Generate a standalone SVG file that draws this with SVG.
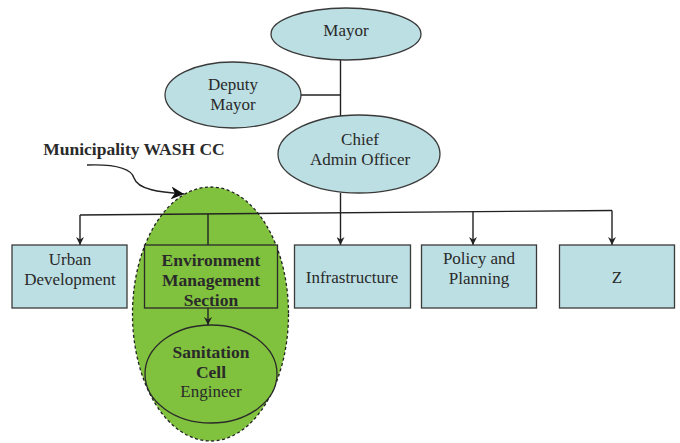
<svg xmlns="http://www.w3.org/2000/svg" width="680" height="443" viewBox="0 0 680 443">
<defs>
<style>
.blue{fill:#bcdfe3;stroke:#3a3a3a;stroke-width:1.3}
.green{fill:#80c13e;stroke:#2a2a2a;stroke-width:1.3}
.t{font-family:"Liberation Serif","Times New Roman",serif;font-size:17px;fill:#2a2a2a;text-anchor:middle}
.b{font-weight:bold;font-size:17.5px}
.ln{fill:none;stroke:#222;stroke-width:1.4}
</style>
<marker id="ah" viewBox="0 0 10 10" refX="10" refY="5" markerWidth="8" markerHeight="8" markerUnits="userSpaceOnUse" orient="auto">
<path d="M0,0 L10,5 L0,10 L3,5 Z" fill="#222"/>
</marker>
<marker id="ah2" viewBox="0 0 10 10" refX="10" refY="5" markerWidth="13" markerHeight="13" markerUnits="userSpaceOnUse" orient="auto">
<path d="M0,0 L10,5 L0,10 L3,5 Z" fill="#111"/>
</marker>
</defs>
<rect width="680" height="443" fill="#fff"/>
<g id="wash-cc">
<ellipse cx="210.5" cy="314" rx="78" ry="127" fill="#80c13e" stroke="#222" stroke-width="1.3" stroke-dasharray="3,2.5"/>
<text class="t b" x="134" y="155" font-size="17">Municipality WASH CC</text>
<path class="ln" d="M87,165 C116,164 131,168 134,178 C138,190 160,192 184,194" stroke="#111" stroke-width="2.2" marker-end="url(#ah2)"/>
</g>
<g id="connectors">
<line class="ln" x1="340.5" y1="60" x2="340.5" y2="117"/>
<line class="ln" x1="300" y1="95" x2="340.5" y2="95"/>
<line class="ln" x1="340.5" y1="193" x2="340.5" y2="245" marker-end="url(#ah)"/>
<line class="ln" x1="80" y1="215" x2="612" y2="210.5"/>
<line class="ln" x1="80" y1="215" x2="80" y2="245" marker-end="url(#ah)"/>
<line class="ln" x1="208" y1="214" x2="208" y2="245"/>
<line class="ln" x1="473" y1="211.7" x2="473" y2="245" marker-end="url(#ah)"/>
<line class="ln" x1="612" y1="210.5" x2="612" y2="245" marker-end="url(#ah)"/>
<line class="ln" x1="208" y1="308" x2="208" y2="325" marker-end="url(#ah)"/>
</g>
<g id="mayor">
<ellipse class="blue" cx="346" cy="34" rx="75" ry="26"/>
<text class="t" x="346" y="36">Mayor</text>
</g>
<g id="deputy-mayor">
<ellipse class="blue" cx="233" cy="95" rx="68" ry="33"/>
<text class="t" x="233" y="90">Deputy</text>
<text class="t" x="233" y="110">Mayor</text>
</g>
<g id="chief-admin-officer">
<ellipse class="blue" cx="359" cy="154" rx="81" ry="39"/>
<text class="t" x="360" y="145">Chief</text>
<text class="t" x="360" y="165">Admin Officer</text>
</g>
<g id="urban-development">
<rect class="blue" x="12" y="245" width="115" height="63"/>
<text class="t" x="70" y="265">Urban</text>
<text class="t" x="70" y="285">Development</text>
</g>
<g id="environment-management-section">
<rect class="green" x="144.5" y="245" width="133" height="63"/>
<text class="t b" x="211" y="266">Environment</text>
<text class="t b" x="211" y="286">Management</text>
<text class="t b" x="211" y="306">Section</text>
</g>
<g id="infrastructure">
<rect class="blue" x="294.5" y="245" width="116" height="63"/>
<text class="t" x="352" y="283">Infrastructure</text>
</g>
<g id="policy-and-planning">
<rect class="blue" x="421.5" y="245" width="115" height="63"/>
<text class="t" x="479" y="264">Policy and</text>
<text class="t" x="479" y="284">Planning</text>
</g>
<g id="z">
<rect class="blue" x="559.5" y="245" width="115" height="63"/>
<text class="t" x="617" y="283">Z</text>
</g>
<g id="sanitation-cell">
<ellipse class="green" cx="211" cy="374" rx="66" ry="49"/>
<text class="t b" x="211" y="358">Sanitation</text>
<text class="t b" x="211" y="378">Cell</text>
<text class="t" x="211" y="397">Engineer</text>
</g>
</svg>
